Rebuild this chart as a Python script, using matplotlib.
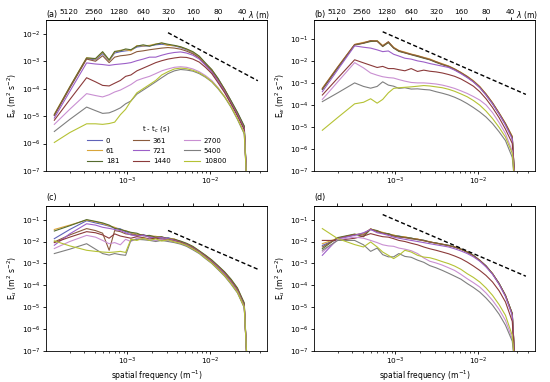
import numpy as np
import matplotlib
matplotlib.use("Agg")
import matplotlib.pyplot as plt
from matplotlib.ticker import NullLocator, LogLocator

# spatial frequency grid (m^-1), shared by all spectra
FREQ = [1.3e-4, 2.0e-4, 3.2e-4, 4.1e-4, 5.0e-4, 6.0e-4, 7.0e-4, 8.2e-4, 9.5e-4, 1.1e-3,
        1.3e-3, 1.55e-3, 1.85e-3, 2.2e-3, 2.6e-3, 3.1e-3, 3.7e-3, 4.4e-3, 5.2e-3, 6.2e-3,
        7.4e-3, 8.8e-3, 1.05e-2, 1.25e-2, 1.5e-2, 1.8e-2, 2.15e-2, 2.6e-2, 2.85e-2]

TIMES = ["0", "61", "181", "361", "721", "1440", "2700", "5400", "10800"]
COLORS = ["#5f63b8", "#d9a53a", "#556b2f", "#8b5a3c", "#9c5fc8",
          "#8b3a3a", "#c98fd2", "#7f7f7f", "#b5c234"]

LAM_TICKS = [5120, 2560, 1280, 640, 320, 160, 80, 40]

# log10 of spectral energy, panel (a): E_w
A_0 = [-4.97, -3.96, -2.90, -2.95, -2.72, -2.98, -2.70, -2.65, -2.62, -2.60, -2.48, -2.45, -2.44, -2.40, -2.38, -2.41, -2.44, -2.50, -2.58, -2.69, -2.85, -3.08, -3.33, -3.64, -4.03, -4.45, -4.88, -5.38, -8]
A_61 = [-4.93, -3.93, -2.87, -2.92, -2.67, -2.97, -2.66, -2.60, -2.58, -2.62, -2.43, -2.44, -2.42, -2.37, -2.34, -2.42, -2.43, -2.48, -2.56, -2.67, -2.83, -3.10, -3.31, -3.66, -4.01, -4.47, -4.90, -5.42, -8]
A_181 = [-4.95, -3.94, -2.88, -2.90, -2.65, -2.95, -2.64, -2.62, -2.55, -2.58, -2.45, -2.40, -2.45, -2.38, -2.33, -2.38, -2.42, -2.47, -2.55, -2.65, -2.81, -3.06, -3.30, -3.62, -4.02, -4.44, -4.86, -5.36, -8]
A_361 = [-4.98, -3.98, -2.92, -3.00, -2.80, -3.05, -2.85, -2.80, -2.78, -2.75, -2.65, -2.62, -2.58, -2.55, -2.52, -2.50, -2.52, -2.56, -2.63, -2.73, -2.88, -3.12, -3.36, -3.68, -4.06, -4.50, -4.93, -5.44, -8]
A_721 = [-5.07, -4.10, -3.06, -3.10, -3.12, -3.15, -3.12, -3.10, -3.08, -3.05, -2.98, -2.92, -2.85, -2.85, -2.78, -2.72, -2.68, -2.66, -2.70, -2.78, -2.92, -3.15, -3.40, -3.72, -4.10, -4.53, -4.96, -5.47, -8]
A_1440 = [-5.15, -4.40, -3.60, -3.75, -3.88, -3.90, -3.80, -3.70, -3.55, -3.50, -3.35, -3.25, -3.15, -3.05, -2.98, -2.92, -2.88, -2.85, -2.86, -2.92, -3.03, -3.22, -3.45, -3.78, -4.14, -4.56, -5.00, -5.50, -8]
A_2700 = [-5.30, -4.75, -4.18, -4.25, -4.30, -4.22, -4.12, -4.05, -3.95, -3.85, -3.70, -3.62, -3.55, -3.45, -3.35, -3.28, -3.22, -3.20, -3.22, -3.28, -3.38, -3.52, -3.70, -3.96, -4.28, -4.65, -5.08, -5.60, -8]
A_5400 = [-5.56, -5.12, -4.67, -4.80, -4.90, -4.88, -4.80, -4.70, -4.55, -4.45, -4.20, -4.05, -3.90, -3.75, -3.60, -3.45, -3.35, -3.30, -3.32, -3.36, -3.45, -3.58, -3.75, -4.00, -4.30, -4.68, -5.12, -5.65, -8]
A_10800 = [-5.96, -5.60, -5.28, -5.28, -5.30, -5.27, -5.22, -4.95, -4.75, -4.45, -4.15, -4.00, -3.85, -3.70, -3.50, -3.38, -3.28, -3.25, -3.27, -3.33, -3.42, -3.56, -3.74, -3.98, -4.29, -4.66, -5.10, -5.62, -8]

# panel (b): E_w
B_0 = [-3.28, -2.30, -1.27, -1.18, -1.10, -1.09, -1.32, -1.15, -1.40, -1.55, -1.62, -1.70, -1.78, -1.85, -1.93, -2.05, -2.15, -2.24, -2.38, -2.53, -2.72, -2.92, -3.18, -3.52, -3.92, -4.38, -4.85, -5.45, -8]
B_61 = [-3.24, -2.27, -1.25, -1.16, -1.09, -1.08, -1.30, -1.14, -1.38, -1.53, -1.60, -1.69, -1.76, -1.84, -1.91, -2.03, -2.13, -2.23, -2.36, -2.52, -2.70, -2.90, -3.16, -3.50, -3.90, -4.36, -4.83, -5.42, -8]
B_181 = [-3.30, -2.32, -1.28, -1.20, -1.12, -1.10, -1.35, -1.17, -1.42, -1.57, -1.64, -1.72, -1.80, -1.88, -1.95, -2.07, -2.17, -2.26, -2.40, -2.55, -2.74, -2.94, -3.20, -3.54, -3.94, -4.40, -4.87, -5.48, -8]
B_361 = [-3.26, -2.28, -1.26, -1.19, -1.08, -1.11, -1.33, -1.13, -1.41, -1.54, -1.63, -1.71, -1.77, -1.86, -1.94, -2.04, -2.16, -2.25, -2.37, -2.54, -2.71, -2.93, -3.19, -3.51, -3.91, -4.37, -4.86, -5.46, -8]
B_721 = [-3.40, -2.40, -1.32, -1.38, -1.42, -1.50, -1.58, -1.55, -1.70, -1.78, -1.88, -1.92, -2.00, -2.05, -2.12, -2.18, -2.24, -2.30, -2.42, -2.58, -2.76, -2.96, -3.22, -3.56, -3.96, -4.42, -4.92, -5.55, -8]
B_1440 = [-3.55, -2.78, -1.95, -2.09, -2.20, -2.30, -2.25, -2.35, -2.35, -2.40, -2.45, -2.35, -2.48, -2.42, -2.47, -2.50, -2.55, -2.62, -2.70, -2.82, -2.98, -3.15, -3.40, -3.72, -4.12, -4.58, -5.10, -5.75, -8]
B_2700 = [-3.75, -2.95, -2.08, -2.32, -2.55, -2.65, -2.72, -2.76, -2.78, -2.85, -2.92, -2.98, -3.00, -3.00, -3.02, -3.05, -3.10, -3.17, -3.25, -3.36, -3.48, -3.62, -3.78, -4.00, -4.35, -4.80, -5.30, -6.10, -8]
B_5400 = [-3.85, -3.45, -3.00, -3.16, -3.24, -3.16, -2.95, -3.10, -3.15, -3.25, -3.22, -3.28, -3.27, -3.30, -3.32, -3.40, -3.47, -3.55, -3.65, -3.78, -3.94, -4.12, -4.32, -4.55, -4.85, -5.22, -5.62, -6.38, -8]
B_10800 = [-5.15, -4.57, -3.95, -3.88, -3.72, -3.92, -3.75, -3.45, -3.25, -3.22, -3.20, -3.18, -3.15, -3.12, -3.14, -3.18, -3.22, -3.29, -3.38, -3.50, -3.63, -3.80, -4.01, -4.28, -4.62, -5.02, -5.46, -6.20, -8]

# panel (c): E_u
C_0 = [-1.87, -1.45, -1.05, -1.15, -1.22, -1.30, -1.38, -1.42, -1.55, -1.62, -1.70, -1.68, -1.78, -1.80, -1.85, -1.82, -1.92, -2.00, -2.12, -2.28, -2.46, -2.66, -2.88, -3.15, -3.42, -3.78, -4.18, -4.88, -8]
C_61 = [-1.45, -1.25, -1.02, -1.10, -1.18, -1.28, -1.35, -1.48, -1.50, -1.60, -1.66, -1.72, -1.75, -1.76, -1.82, -1.86, -1.88, -2.02, -2.10, -2.25, -2.44, -2.64, -2.86, -3.12, -3.40, -3.75, -4.15, -4.85, -8]
C_181 = [-1.52, -1.28, -1.00, -1.08, -1.15, -1.25, -1.40, -1.45, -1.52, -1.58, -1.62, -1.74, -1.72, -1.80, -1.78, -1.88, -1.90, -1.98, -2.08, -2.22, -2.42, -2.62, -2.84, -3.10, -3.38, -3.72, -4.12, -4.80, -8]
C_361 = [-2.02, -1.70, -1.41, -1.50, -1.62, -2.40, -1.50, -1.55, -1.65, -1.68, -1.72, -1.70, -1.80, -1.82, -1.80, -1.90, -1.92, -2.02, -2.12, -2.26, -2.45, -2.66, -2.88, -3.14, -3.42, -3.78, -4.18, -4.88, -8]
C_721 = [-2.17, -1.65, -1.19, -1.25, -1.35, -1.40, -1.45, -1.50, -1.60, -1.70, -1.75, -1.72, -1.80, -1.85, -1.82, -1.88, -1.95, -2.05, -2.15, -2.30, -2.48, -2.70, -2.92, -3.18, -3.48, -3.85, -4.25, -4.95, -8]
C_1440 = [-2.05, -1.80, -1.55, -1.60, -1.70, -1.85, -1.65, -1.75, -1.80, -1.85, -1.78, -1.82, -1.88, -1.85, -1.90, -1.92, -1.98, -2.05, -2.18, -2.32, -2.50, -2.72, -2.95, -3.22, -3.52, -3.88, -4.28, -4.98, -8]
C_2700 = [-2.32, -2.00, -1.72, -1.80, -1.95, -2.10, -2.05, -2.15, -1.90, -2.00, -1.85, -1.88, -1.90, -1.95, -1.92, -1.95, -2.00, -2.08, -2.20, -2.35, -2.52, -2.74, -2.98, -3.25, -3.55, -3.90, -4.30, -5.00, -8]
C_5400 = [-2.55, -2.35, -2.10, -2.35, -2.55, -2.62, -2.55, -2.60, -2.63, -1.95, -1.90, -1.92, -1.95, -2.00, -1.95, -2.00, -2.05, -2.12, -2.22, -2.38, -2.55, -2.78, -3.00, -3.28, -3.58, -3.95, -4.35, -5.02, -8]
C_10800 = [-1.97, -2.20, -2.40, -2.45, -2.48, -2.50, -2.48, -2.45, -2.50, -1.90, -1.95, -1.85, -1.95, -1.88, -1.98, -1.92, -2.02, -2.08, -2.18, -2.34, -2.52, -2.75, -2.98, -3.25, -3.55, -3.92, -4.32, -5.00, -8]

# panel (d): E_u
D_0 = [-2.18, -1.87, -1.70, -1.62, -1.45, -1.55, -1.60, -1.65, -1.72, -1.75, -1.80, -1.85, -1.90, -1.95, -2.02, -2.08, -2.13, -2.18, -2.25, -2.35, -2.48, -2.64, -2.86, -3.12, -3.47, -3.92, -4.46, -5.30, -8]
D_61 = [-2.10, -1.85, -1.68, -1.65, -1.43, -1.52, -1.58, -1.66, -1.70, -1.78, -1.78, -1.86, -1.88, -1.97, -2.00, -2.10, -2.12, -2.20, -2.24, -2.36, -2.47, -2.66, -2.85, -3.14, -3.46, -3.94, -4.45, -5.32, -8]
D_181 = [-2.33, -1.82, -1.66, -1.78, -1.44, -1.50, -1.62, -1.64, -1.74, -1.76, -1.82, -1.84, -1.92, -1.94, -2.03, -2.06, -2.14, -2.17, -2.26, -2.34, -2.49, -2.63, -2.87, -3.11, -3.48, -3.91, -4.47, -5.28, -8]
D_361 = [-2.25, -1.85, -1.68, -1.70, -1.42, -1.55, -1.62, -1.68, -1.75, -1.80, -1.82, -1.88, -1.90, -1.96, -2.02, -2.07, -2.12, -2.19, -2.25, -2.35, -2.48, -2.65, -2.86, -3.12, -3.47, -3.93, -4.46, -5.30, -8]
D_721 = [-2.63, -1.88, -1.72, -1.60, -1.45, -1.60, -1.65, -1.72, -1.80, -1.85, -1.90, -1.95, -2.00, -2.05, -2.10, -2.15, -2.20, -2.25, -2.33, -2.43, -2.55, -2.70, -2.90, -3.16, -3.50, -3.96, -4.52, -5.38, -8]
D_1440 = [-1.95, -1.95, -1.85, -1.75, -1.64, -1.72, -1.78, -1.80, -1.87, -1.95, -2.00, -2.08, -2.15, -2.25, -2.33, -2.40, -2.48, -2.56, -2.66, -2.78, -2.94, -3.12, -3.32, -3.55, -3.85, -4.25, -4.76, -5.65, -8]
D_2700 = [-2.48, -1.92, -1.80, -1.85, -1.95, -2.05, -2.15, -2.20, -2.22, -2.30, -2.35, -2.42, -2.55, -2.75, -2.90, -2.98, -3.08, -3.20, -3.32, -3.50, -3.70, -3.88, -4.08, -4.35, -4.69, -5.10, -5.60, -6.44, -8]
D_5400 = [-2.40, -1.95, -1.95, -2.15, -2.45, -2.30, -2.60, -2.70, -2.70, -2.55, -2.68, -2.72, -2.85, -2.95, -3.10, -3.20, -3.32, -3.45, -3.58, -3.72, -3.92, -4.10, -4.31, -4.58, -4.91, -5.32, -5.82, -6.55, -8]
D_10800 = [-1.41, -1.87, -2.14, -2.25, -2.02, -2.25, -2.48, -2.63, -2.78, -2.63, -2.40, -2.48, -2.63, -2.71, -2.74, -2.82, -2.92, -3.01, -3.12, -3.27, -3.47, -3.64, -3.85, -4.12, -4.46, -4.88, -5.37, -6.29, -8]

# -5/3 reference lines (end points)
SLOPE_A = ([3.1e-3, 3.8e-2], [1.1e-2, 1.95e-4])
SLOPE_B = ([7.0e-4, 3.8e-2], [0.21, 3.0e-4])
SLOPE_C = ([3.1e-3, 3.8e-2], [3.2e-2, 5.4e-4])
SLOPE_D = ([7.0e-4, 3.8e-2], [0.17, 2.6e-4])

plt.rcParams["font.size"] = 5.3
plt.rcParams["axes.linewidth"] = 0.6


def inv(x):
    return 1.0 / np.clip(np.asarray(x, dtype=float), 1e-12, None)


def draw_panel(ax, series, ylim, ylabel, tag, tag_y, slope, top_labels, xlabel):
    for vals, col, t in zip(series, COLORS, TIMES):
        ax.plot(FREQ, 10.0 ** np.array(vals), color=col, lw=0.8, label=t)
    ax.plot(slope[0], slope[1], color="k", lw=1.0, ls=(0, (3, 1.8)))
    ax.set_xscale("log")
    ax.set_yscale("log")
    ax.set_xlim(1.03e-4, 4.9e-2)
    ax.set_ylim(*ylim)
    ax.yaxis.set_major_locator(LogLocator(base=10, numticks=15))
    ax.yaxis.set_minor_locator(NullLocator())
    ax.tick_params(which="major", length=2.2, width=0.6, pad=1.8, labelsize=5.3)
    ax.tick_params(axis="x", which="major", pad=1.2)
    ax.tick_params(which="minor", length=1.3, width=0.5)
    ax.set_ylabel(ylabel, fontsize=5.5, labelpad=2)
    if xlabel:
        ax.set_xlabel("spatial frequency (m$^{-1}$)", fontsize=5.5, labelpad=0.8)

    sec = ax.secondary_xaxis("top", functions=(inv, inv))
    sec.set_xticks(LAM_TICKS)
    sec.xaxis.set_minor_locator(NullLocator())
    if top_labels:
        sec.set_xticklabels([str(v) for v in LAM_TICKS])
        ax.text(1.013, 1.035, "$\\lambda$ (m)", transform=ax.transAxes,
                ha="right", va="center", fontsize=5.5)
    else:
        sec.set_xticklabels([])
    sec.tick_params(length=2.2, width=0.6, pad=1.5, labelsize=5.3)
    ax.text(0.0, tag_y, tag, transform=ax.transAxes, ha="left", va="center", fontsize=5.8)


fig = plt.figure(figsize=(5.5, 3.82), dpi=100)
ax_a = fig.add_axes([0.0836, 0.5524, 0.4018, 0.3953])
ax_b = fig.add_axes([0.5709, 0.5524, 0.4018, 0.3953])
ax_c = fig.add_axes([0.0836, 0.0812, 0.4018, 0.3796])
ax_d = fig.add_axes([0.5709, 0.0812, 0.4018, 0.3796])

ew_label = "E$_w$ (m$^2$ s$^{-2}$)"
eu_label = "E$_u$ (m$^2$ s$^{-2}$)"

draw_panel(ax_a, [A_0, A_61, A_181, A_361, A_721, A_1440, A_2700, A_5400, A_10800],
           (1e-7, 3.2e-2), ew_label, "(a)", 1.035, SLOPE_A, True, False)
draw_panel(ax_b, [B_0, B_61, B_181, B_361, B_721, B_1440, B_2700, B_5400, B_10800],
           (1e-7, 0.72), ew_label, "(b)", 1.035, SLOPE_B, True, False)
draw_panel(ax_c, [C_0, C_61, C_181, C_361, C_721, C_1440, C_2700, C_5400, C_10800],
           (1e-7, 0.42), eu_label, "(c)", 1.055, SLOPE_C, False, True)
draw_panel(ax_d, [D_0, D_61, D_181, D_361, D_721, D_1440, D_2700, D_5400, D_10800],
           (1e-7, 0.42), eu_label, "(d)", 1.055, SLOPE_D, False, True)

handles, labels = ax_a.get_legend_handles_labels()
ax_a.legend(handles[:9], labels[:9], title="t - t$_c$ (s)", ncol=3, loc="lower center",
            frameon=False, fontsize=5.0, title_fontsize=5.0, handlelength=2.2,
            handletextpad=0.6, columnspacing=2.0, labelspacing=0.6, borderaxespad=0.6)

fig.savefig("out.png", dpi=100)
plt.close(fig)
